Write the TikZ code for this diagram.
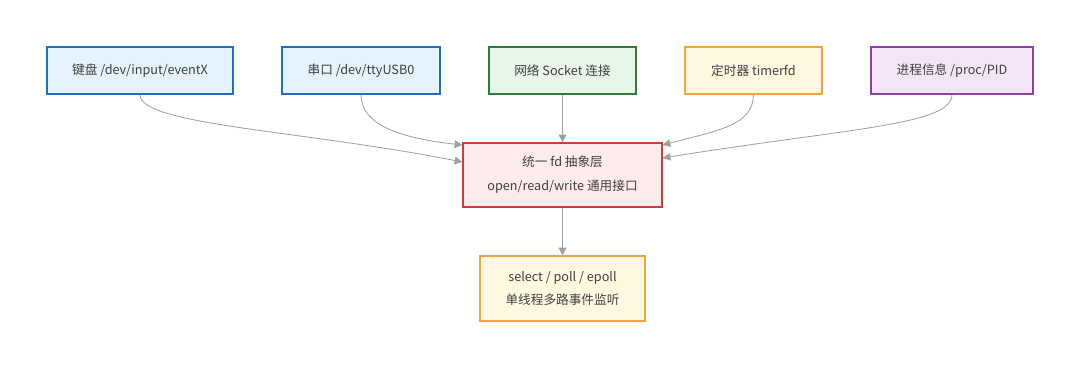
\documentclass[tikz,border=0pt]{standalone}
\usepackage{fontspec}
\setmainfont{Noto Sans CJK SC}
\usepackage{tikz}
\usetikzlibrary{arrows.meta, positioning, calc}
\definecolor{blueline}{HTML}{1E6FC0}
\definecolor{bluefill}{HTML}{E3F2FD}
\definecolor{greenline}{HTML}{2E7D32}
\definecolor{greenfill}{HTML}{E8F5E9}
\definecolor{orangeline}{HTML}{F2A33A}
\definecolor{orangefill}{HTML}{FFF8E1}
\definecolor{purpleline}{HTML}{8E3FAE}
\definecolor{purplefill}{HTML}{F3E5F5}
\definecolor{redline}{HTML}{D33A3A}
\definecolor{redfill}{HTML}{FFEBEE}
\definecolor{edgegray}{HTML}{A0A0A0}

\begin{document}
\begin{tikzpicture}[
      x=0.025cm, y=-0.025cm,
      src/.style    = {draw, line width=0.9pt, minimum height=1.175cm, text=black!75,
                       font=\fontsize{9}{16}\selectfont, align=center, inner sep=2pt},
      core/.style   = {draw, line width=0.9pt, minimum height=1.6cm, text=black!75,
                       font=\fontsize{9}{17}\selectfont, align=center},
      link/.style   = {-{Triangle[length=5.5pt,width=5.5pt]}, line width=0.6pt, color=edgegray},
    ]
    \useasboundingbox (0,0) rectangle (1080,368);

    % --- Sorgenti (riga in alto) ---
    \def\yTop{70.5}
    \node[src, fill=bluefill,   draw=blueline,   minimum width=4.65cm]  (kbd)   at (140,   \yTop) {键盘 /dev/input/eventX};
    \node[src, fill=bluefill,   draw=blueline,   minimum width=3.95cm]  (tty)   at (361,   \yTop) {串口 /dev/ttyUSB0};
    \node[src, fill=greenfill,  draw=greenline,  minimum width=3.675cm] (sock)  at (562.5, \yTop) {网络 Socket 连接};
    \node[src, fill=orangefill, draw=orangeline, minimum width=3.425cm] (timer) at (753.5, \yTop) {定时器 timerfd};
    \node[src, fill=purplefill, draw=purpleline, minimum width=4.05cm]  (proc)  at (952,   \yTop) {进程信息 /proc/PID};

    % --- Livello fd ---
    \node[core, fill=redfill, draw=redline, minimum width=4.975cm] (fd) at (562.5, 175)
      {统一 fd 抽象层\\open/read/write 通用接口};

    % --- Multiplexing ---
    \node[core, fill=orangefill, draw=orangeline, minimum width=4.125cm,
          minimum height=1.625cm] (poll) at (562.5, 288.5)
      {select / poll / epoll\\单线程多路事件监听};

    % --- Collegamenti ---
    \coordinate (fdL1) at ($(fd.west)+(0,-13)$);
    \coordinate (fdL2) at ($(fd.west)+(0,-30)$);
    \coordinate (fdR1) at ($(fd.east)+(0,-30)$);
    \coordinate (fdR2) at ($(fd.east)+(0,-17)$);
    \draw[link] (kbd.south)  .. controls (140,125) and (300,130) .. (fdL1);
    \draw[link] (tty.south)  .. controls (361,125) and (400,138) .. (fdL2);
    \draw[link] (sock.south) -- (fd.north);
    \draw[link] (timer.south) .. controls (753,125) and (720,130) .. (fdR1);
    \draw[link] (proc.south) .. controls (952,125) and (850,128) .. (fdR2);
    \draw[link] (fd.south)   -- (poll.north);

  \end{tikzpicture}
\end{document}
